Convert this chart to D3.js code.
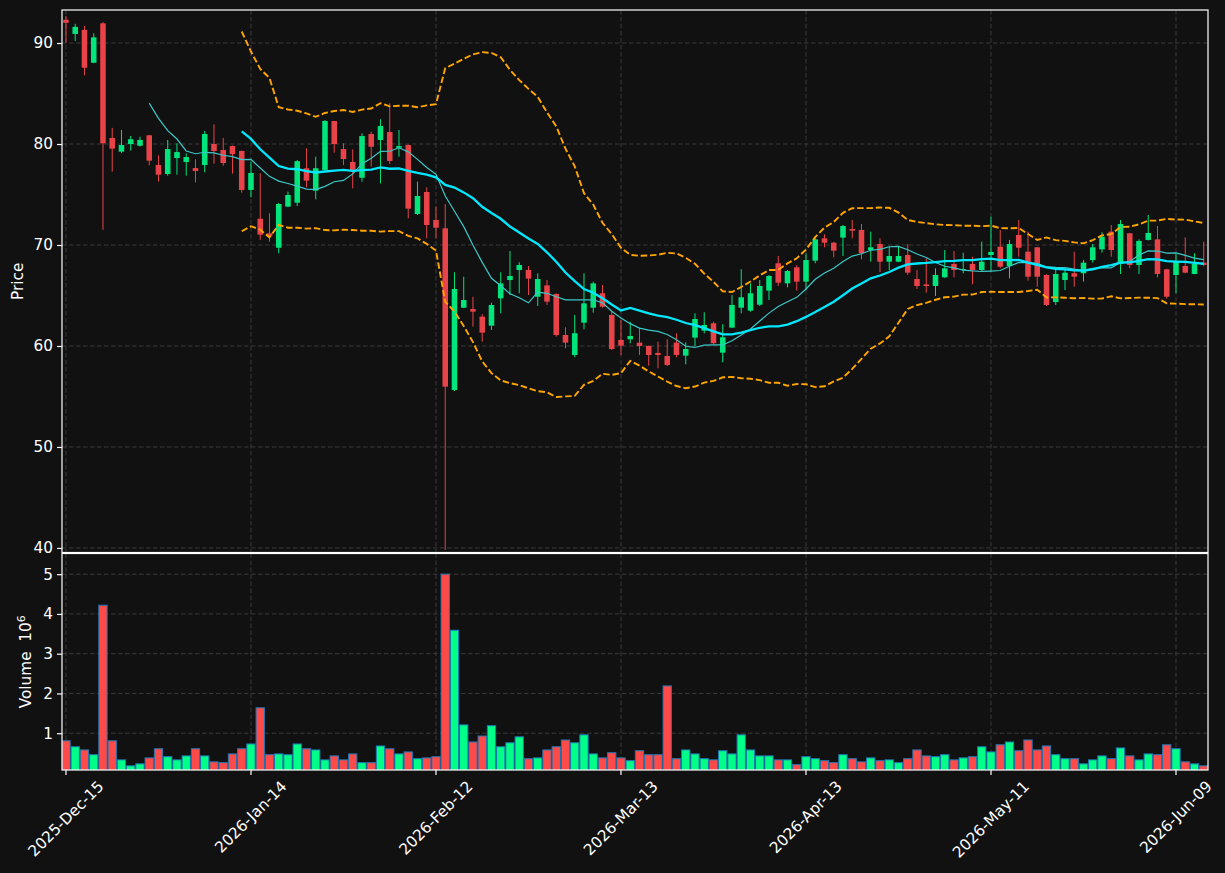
<!DOCTYPE html>
<html><head><meta charset="utf-8">
<script src="https://cdn.jsdelivr.net/npm/d3@7"></script>
<style>html,body{margin:0;padding:0;background:#111111;}svg{display:block;font-family:"DejaVu Sans",sans-serif;}</style>
</head><body>
<svg id="chart" width="1225" height="873"></svg>
<script>
// ---- data ----
const tickLabels = ["2025-Dec-15","2026-Jan-14","2026-Feb-12","2026-Mar-13","2026-Apr-13","2026-May-11","2026-Jun-09"];
const tickIndex = [0,20,40,60,80,100,120];
const opens = [92.3,90.9,91.3,88.05,91.95,80.6,79.24,80.0,79.83,80.86,77.92,77.03,78.61,78.22,77.62,77.92,80.0,79.41,79.8,79.31,
75.45,72.6,71.16,69.73,73.8,74.19,77.6,75.38,77.43,82.28,79.5,78.22,76.66,80.99,80.4,81.19,79.63,79.9,73.07,75.25,
72.48,71.65,55.64,63.79,63.66,62.9,62.01,64.72,66.53,67.52,67.52,64.88,66.0,65.15,61.09,59.11,62.31,63.79,65.22,63.07,
60.6,60.66,60.33,60.0,59.31,59.01,60.33,59.04,60.83,61.52,62.25,59.34,61.82,63.79,63.5,64.09,65.48,68.19,66.2,67.79,
66.37,68.45,70.66,70.23,70.73,71.58,71.49,69.5,70.1,68.35,68.35,69.01,66.63,66.1,65.94,66.8,68.12,67.52,68.12,67.52,
69.01,69.83,67.92,70.99,69.34,69.77,67.03,64.35,66.53,67.2,67.2,68.51,69.57,71.32,68.12,71.16,68.02,70.5,70.56,67.59,
67.03,67.92,67.13,68.25];
const highs = [92.67,91.9,91.7,90.96,92.08,81.6,81.39,80.8,80.72,80.9,78.88,80.4,80.07,79.08,78.48,81.29,81.95,80.6,79.85,79.35,
78.25,77.1,73.14,74.16,75.28,78.42,79.57,78.74,82.38,82.3,80.07,79.47,81.06,81.22,82.45,84.03,81.39,79.95,76.27,75.71,
73.8,74.06,67.3,66.86,64.88,63.14,64.29,67.3,69.41,68.29,67.92,67.2,66.53,65.2,61.85,63.07,67.2,66.37,66.04,63.4,
62.57,62.4,61.75,60.05,60.43,60.66,61.26,60.37,63.24,63.34,62.4,62.15,65.05,67.6,66.2,66.53,67.03,68.91,67.52,68.0,
69.18,70.82,71.06,70.3,71.98,72.48,72.08,71.32,70.66,69.83,69.83,70.1,67.52,68.68,67.69,69.5,69.41,69.24,68.84,70.33,
72.8,71.49,70.5,72.48,71.32,69.8,67.1,67.69,67.52,69.34,68.51,70.1,71.26,71.98,72.48,71.2,70.56,72.97,71.88,67.65,
69.18,70.76,69.18,70.33];
const lows = [90.03,90.2,86.8,88.0,71.5,77.26,79.1,79.34,79.75,77.89,76.27,76.86,76.96,76.86,76.2,77.2,78.05,77.85,77.06,75.18,
74.72,70.5,70.33,69.18,73.75,73.86,75.71,74.52,77.4,79.14,77.92,75.61,76.27,77.76,76.1,78.02,78.74,72.64,72.97,70.66,
70.66,39.8,55.54,63.75,61.91,60.43,61.58,63.24,65.05,65.22,65.05,63.96,64.06,60.92,59.77,58.88,61.65,63.3,63.8,59.6,
59.11,60.27,59.11,58.06,57.79,58.0,58.88,58.19,60.0,61.26,60.2,58.38,61.78,63.24,63.4,63.96,64.55,65.94,65.81,65.48,
65.54,68.19,69.77,68.78,68.91,70.66,68.58,68.35,67.3,67.52,68.3,67.03,65.64,65.28,64.95,66.75,66.8,67.2,66.1,67.36,
67.36,67.7,66.7,68.84,66.47,65.87,63.96,64.06,65.54,65.87,66.37,68.25,69.24,68.84,67.13,67.69,67.13,70.45,66.8,64.69,
65.22,67.2,67.1,67.9];
const closes = [92.0,91.6,87.55,90.56,80.07,79.54,79.9,80.47,80.4,78.35,76.96,79.5,79.2,78.71,77.33,80.99,79.31,78.12,79.0,75.45,
77.13,71.02,70.89,74.06,74.95,78.3,76.37,77.6,82.28,80.0,78.51,77.43,80.79,79.73,81.78,78.32,79.8,73.6,74.85,71.98,
71.71,55.97,65.64,64.55,63.4,61.32,64.06,66.2,66.93,68.02,66.67,66.63,64.39,61.09,60.33,61.26,64.22,66.2,63.89,59.7,
60.03,60.99,60.0,59.11,59.11,58.12,59.11,59.7,62.67,62.08,60.27,60.86,64.06,64.82,65.22,65.94,66.93,66.27,67.43,66.37,
68.51,70.56,70.23,69.44,71.88,71.42,69.18,69.77,68.35,68.91,68.91,67.26,65.94,65.94,67.03,67.69,67.52,67.62,67.52,68.35,
69.31,67.85,70.1,69.73,66.86,66.86,64.06,67.13,67.26,66.86,68.25,69.77,70.82,69.5,72.08,68.02,70.4,71.19,67.13,64.88,
68.42,67.26,68.12,68.02];
const volumes = [0.81,0.66,0.58,0.46,4.22,0.81,0.33,0.18,0.23,0.38,0.61,0.41,0.33,0.43,0.61,0.43,0.28,0.26,0.48,0.61,
0.73,1.64,0.46,0.48,0.46,0.73,0.61,0.58,0.33,0.43,0.33,0.48,0.26,0.26,0.68,0.61,0.48,0.53,0.36,0.38,
0.41,5.0,3.59,1.21,0.78,0.93,1.19,0.66,0.76,0.91,0.36,0.38,0.58,0.66,0.83,0.76,0.96,0.48,0.38,0.51,
0.38,0.31,0.56,0.46,0.46,2.19,0.36,0.58,0.48,0.36,0.33,0.56,0.48,0.96,0.58,0.43,0.43,0.33,0.33,0.21,
0.41,0.36,0.31,0.26,0.46,0.36,0.28,0.38,0.31,0.33,0.26,0.36,0.58,0.43,0.41,0.46,0.33,0.38,0.41,0.66,
0.53,0.71,0.78,0.56,0.83,0.58,0.68,0.46,0.36,0.36,0.23,0.33,0.43,0.36,0.63,0.43,0.33,0.48,0.46,0.71,
0.61,0.28,0.23,0.18];
const priceTicks = [40,50,60,70,80,90];
const volTicks = [1,2,3,4,5];
const maShort = 10, maLong = 20, bbK = 2;

// ---- styling ----
const BG = "#111111", FG = "#ffffff", GRID = "#3a3a3a", FS = 15.3;
const UP = "#00e47c", DOWN = "#e84348", VUP = "#00ff88", VDOWN = "#ff4a4a";
const plotL = 62, plotR = 1208, pTop = 10, pBot = 552.5, vTop = 553.5, vBot = 770;

const svg = d3.select("#chart");
svg.append("rect").attr("width",1225).attr("height",873).attr("fill",BG);

const N = closes.length;
const data = d3.range(N).map(i => ({i, o:opens[i], h:highs[i], l:lows[i], c:closes[i], v:volumes[i]}));

const x = d3.scaleLinear().domain([-0.43, N - 0.54]).range([plotL, plotR]);
const step = x(1) - x(0);
const yP = d3.scaleLinear().domain([39.55, 93.27]).range([pBot, pTop]);
const yV = d3.scaleLinear().domain([0.075, 5.52]).range([vBot, vTop]);

const defs = svg.append("defs");
defs.append("clipPath").attr("id","cp").append("rect").attr("x",plotL).attr("y",pTop).attr("width",plotR-plotL).attr("height",pBot-pTop);
defs.append("clipPath").attr("id","cv").append("rect").attr("x",plotL).attr("y",vTop).attr("width",plotR-plotL).attr("height",vBot-vTop);

// grids
const grid = svg.append("g").attr("stroke",GRID).attr("stroke-width",1).attr("stroke-dasharray","4.5,2.5");
tickIndex.forEach(t => {
  grid.append("line").attr("x1",x(t)).attr("x2",x(t)).attr("y1",pTop).attr("y2",pBot);
  grid.append("line").attr("x1",x(t)).attr("x2",x(t)).attr("y1",vTop).attr("y2",vBot);
});
priceTicks.forEach(t => grid.append("line").attr("x1",plotL).attr("x2",plotR).attr("y1",yP(t)).attr("y2",yP(t)));
volTicks.forEach(t => grid.append("line").attr("x1",plotL).attr("x2",plotR).attr("y1",yV(t)).attr("y2",yV(t)));

// candles
const cg = svg.append("g").attr("clip-path","url(#cp)");
const bodyW = step * 0.6;
data.forEach(d => {
  const col = d.c >= d.o ? UP : DOWN;
  cg.append("line").attr("x1",x(d.i)).attr("x2",x(d.i)).attr("y1",yP(d.h)).attr("y2",yP(d.l))
    .attr("stroke",col).attr("stroke-width",1);
  const top = yP(Math.max(d.o,d.c)), bot = yP(Math.min(d.o,d.c));
  cg.append("rect").attr("x",x(d.i)-bodyW/2).attr("y",top).attr("width",bodyW)
    .attr("height",Math.max(1,bot-top)).attr("fill",col);
});

// moving averages and bollinger bands
function rolling(n, fn){ return d3.range(N).map(i => i < n-1 ? null : fn(closes.slice(i-n+1,i+1))); }
const ma10 = rolling(maShort, a => d3.mean(a));
const ma20 = rolling(maLong, a => d3.mean(a));
const sd20 = rolling(maLong, a => d3.deviation(a));
const bbUp = ma20.map((m,i) => m == null ? null : m + bbK*sd20[i]);
const bbLo = ma20.map((m,i) => m == null ? null : m - bbK*sd20[i]);
const line = d3.line().defined(d => d != null).x((d,i) => x(i)).y(d => yP(d));
const lg = svg.append("g").attr("clip-path","url(#cp)").attr("fill","none");
lg.append("path").attr("d", line(ma10)).attr("stroke","#3cc8c8").attr("stroke-width",1.2);
lg.append("path").attr("d", line(ma20)).attr("stroke","#00e8ff").attr("stroke-width",2.3);
lg.append("path").attr("d", line(bbUp)).attr("stroke","#ffa500").attr("stroke-width",1.9).attr("stroke-dasharray","6.5,2.8");
lg.append("path").attr("d", line(bbLo)).attr("stroke","#ffa500").attr("stroke-width",1.9).attr("stroke-dasharray","6.5,2.8");

// volume bars
const vg = svg.append("g").attr("clip-path","url(#cv)");
const barW = step * 0.9;
data.forEach(d => {
  const col = d.c >= d.o ? VUP : VDOWN;
  vg.append("rect").attr("x",x(d.i)-barW/2).attr("y",yV(d.v)).attr("width",barW)
    .attr("height",yV(0.075)-yV(d.v)+2).attr("fill",col).attr("stroke","#1f77b4").attr("stroke-width",1);
});

// frames
const fr = svg.append("g").attr("fill","none").attr("stroke",FG).attr("stroke-width",1.2);
fr.append("rect").attr("x",plotL).attr("y",pTop).attr("width",plotR-plotL).attr("height",pBot-pTop);
fr.append("rect").attr("x",plotL).attr("y",vTop).attr("width",plotR-plotL).attr("height",vBot-vTop);

// y axes
const axP = svg.append("g").attr("transform",`translate(${plotL},0)`)
  .call(d3.axisLeft(yP).tickValues(priceTicks).tickSize(5).tickPadding(4).tickFormat(d3.format("d")));
const axV = svg.append("g").attr("transform",`translate(${plotL},0)`)
  .call(d3.axisLeft(yV).tickValues(volTicks).tickSize(5).tickPadding(4).tickFormat(d3.format("d")));
[axP, axV].forEach(a => {
  a.select(".domain").remove();
  a.selectAll(".tick line").attr("stroke",FG).attr("stroke-width",1.2);
  a.selectAll(".tick text").attr("fill",FG).attr("font-size",FS).attr("font-family","DejaVu Sans");
});

// x axis ticks + rotated labels
const axX = svg.append("g");
tickIndex.forEach((t,k) => {
  axX.append("line").attr("x1",x(t)).attr("x2",x(t)).attr("y1",vBot).attr("y2",vBot+5)
    .attr("stroke",FG).attr("stroke-width",1.2);
  const txt = axX.append("text").text(tickLabels[k]).attr("fill",FG).attr("font-size",FS)
    .attr("text-anchor","middle").attr("dominant-baseline","central");
  const L = txt.node().getComputedTextLength();
  const cy = vBot + 5 + 3.5 + (L + FS) * Math.SQRT1_2 / 2;
  txt.attr("transform",`translate(${x(t)},${cy}) rotate(-45)`);
});

// axis titles
svg.append("text").text("Price").attr("fill",FG).attr("font-size",FS).attr("text-anchor","middle")
  .attr("transform",`translate(23,${(pTop+pBot)/2}) rotate(-90)`);
const vt = svg.append("text").attr("fill",FG).attr("font-size",FS).attr("text-anchor","middle")
  .attr("xml:space","preserve").style("white-space","pre")
  .attr("transform",`translate(31,${(vTop+vBot)/2}) rotate(-90)`);
vt.append("tspan").text("Volume  10");
vt.append("tspan").text("6").attr("font-size",11).attr("dy",-6);
</script>
</body></html>
